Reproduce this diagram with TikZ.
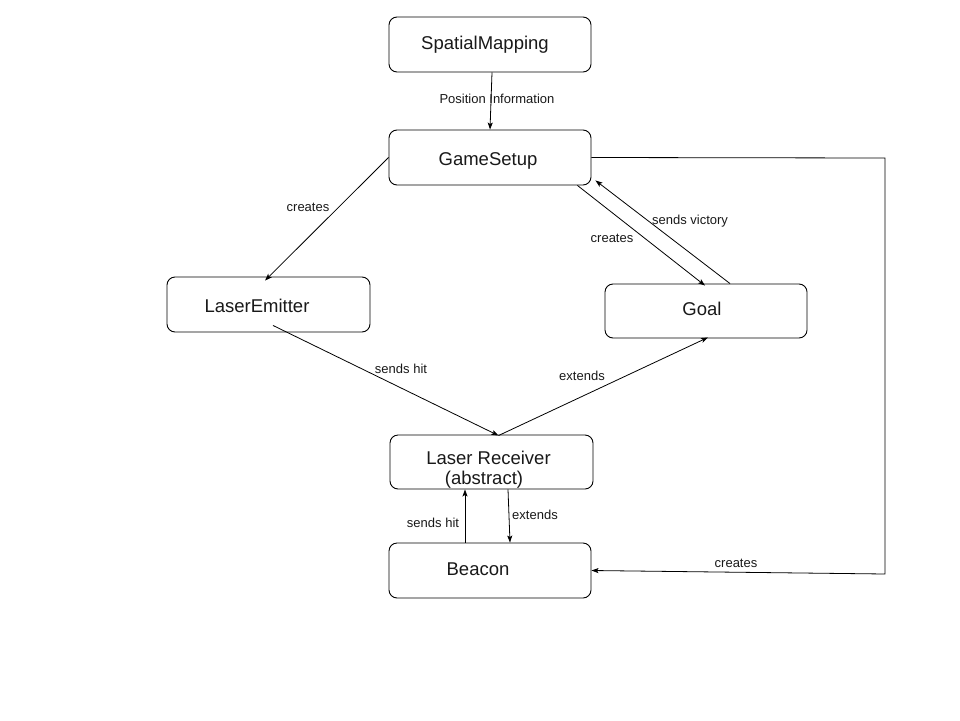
\documentclass[tikz,border=0pt]{standalone}
\usepackage{fontspec}
\setmainfont{Liberation Sans}
\usetikzlibrary{arrows.meta,calc}
\begin{document}
\begin{tikzpicture}[x=1pt,y=-1pt,
  box/.style={draw=black, line width=0.9pt, rounded corners=8pt, inner sep=0pt,
    minimum width=202pt, minimum height=55pt},
  boxtext/.style={anchor=base, inner sep=0pt, text=black!90, font=\fontsize{18.5}{22}\selectfont},
  lbl/.style={anchor=base, inner sep=0pt, text=black!90, font=\fontsize{13}{15}\selectfont},
  conn/.style={draw=black, line width=0.8pt, -{Stealth[length=7pt,width=5pt,inset=1.5pt]}}]
  \fill[white] (0,0) rectangle (960,720);
  \useasboundingbox (0,0) rectangle (960,720);

  % class boxes
  \node[box] (sm) at (490,44.5) {};
  \node[box] (gs) at (490,157.5) {};
  \node[box, minimum width=203pt] (le) at (268.5,304.5) {};
  \node[box, minimum height=54pt] (goal) at (706,311) {};
  \node[box, minimum width=203pt, minimum height=54pt] (lr) at (491.5,462) {};
  \node[box] (bc) at (490,570.5) {};

  % box captions
  \node[boxtext] (smt) at (485,49) {SpatialMapping};
  \node[boxtext] (gst) at (488,165) {GameSetup};
  \node[boxtext] (let) at (257,312) {LaserEmitter};
  \node[boxtext] (goalt) at (702,315) {Goal};
  \node[boxtext] (lrt) at (488.5,464) {Laser Receiver};
  \node[boxtext] (lrt2) at (484,484) {(abstract)};
  \node[boxtext] (bct) at (478,575) {Beacon};

  % connector end points
  \coordinate (smout) at ($(sm.south)+(2,0)$);
  \coordinate (leIn) at ($(le.north)+(-3.5,4)$);
  \coordinate (gsSE) at ($(gs.south east)+(-14,0)$);
  \coordinate (goalIn) at ($(goal.north)+(-1,2)$);
  \coordinate (goalOut) at ($(goal.north)+(24,0)$);
  \coordinate (gsIn) at ($(gs.south east)+(4,-5)$);
  \coordinate (cornerA) at (885,158);
  \coordinate (cornerB) at (885,574);
  \coordinate (leOut) at ($(le.south)+(4.5,-7)$);
  \coordinate (lrTop) at ($(lr.north)+(7,1)$);
  \coordinate (goalBot) at ($(goal.south)+(2,-1)$);
  \coordinate (bcUp) at ($(bc.north)+(-25,0)$);
  \coordinate (lrUp) at ($(lr.south)+(-26.5,0)$);
  \coordinate (lrDown) at ($(lr.south)+(16.5,0)$);
  \coordinate (bcDown) at ($(bc.north)+(20,0)$);

  % connectors
  \draw[conn] (smout) -- (gs.north);
  \draw[conn] (gs.west) -- (leIn);
  \draw[conn] (gsSE) -- (goalIn);
  \draw[conn] (goalOut) -- (gsIn);
  \draw[conn] (gs.east) -- (cornerA) -- (cornerB) -- (bc.east);
  \draw[conn] (leOut) -- (lrTop);
  \draw[conn] (lrTop) -- (goalBot);
  \draw[conn] (bcUp) -- (lrUp);
  \draw[conn] (lrDown) -- (bcDown);

  % connector labels
  \node[lbl] (l1) at (497,103) {Position Information};
  \node[lbl] (l2) at (308,211) {creates};
  \node[lbl] (l3) at (612,242) {creates};
  \node[lbl] (l4) at (690,224) {sends victory};
  \node[lbl] (l5) at (736,567) {creates};
  \node[lbl] (l6) at (401,373) {sends hit};
  \node[lbl] (l7) at (582,380) {extends};
  \node[lbl] (l8) at (433,527) {sends hit};
  \node[lbl] (l9) at (535,519) {extends};
\end{tikzpicture}
\end{document}
